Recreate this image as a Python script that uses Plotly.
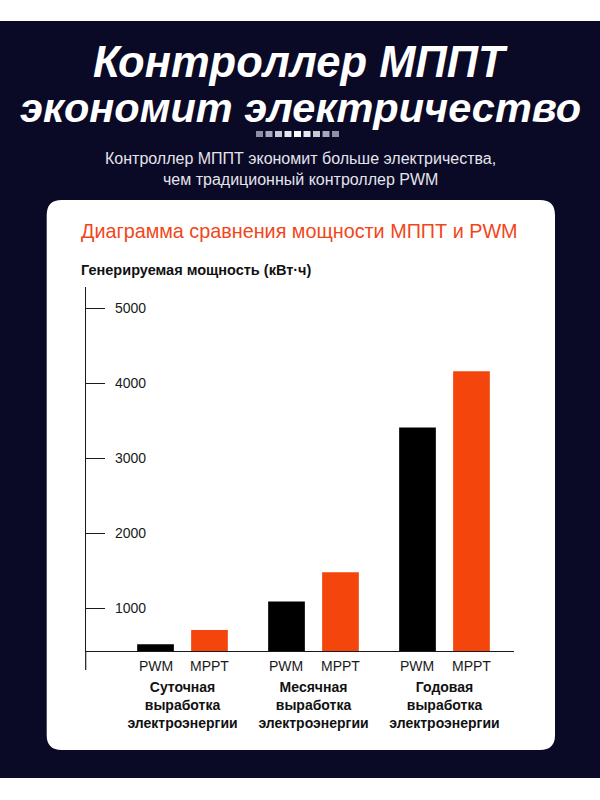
import plotly.graph_objects as go

# ---- data ----
groups = ["Суточная<br>выработка<br>электроэнергии",
          "Месячная<br>выработка<br>электроэнергии",
          "Годовая<br>выработка<br>электроэнергии"]
series_names = ["PWM", "MPPT"]
pwm_values = [520, 1090, 3410]
mppt_values = [710, 1480, 4160]
y_ticks = [1000, 2000, 3000, 4000, 5000]
y_tick_labels = ["1000", "2000", "3000", "4000", "5000"]

title_line1 = "Контроллер МППТ"
title_line2 = "экономит электричество"
subtitle_lines = ["Контроллер МППТ экономит больше электричества,",
                  "чем традиционный контроллер PWM"]
chart_title = "Диаграмма сравнения мощности МППТ и PWM"
y_title = "Генерируемая мощность (кВт·ч)"

W, H = 600, 800
FONT = "Liberation Sans, Arial, sans-serif"
DARK = "#0a0926"
ORANGE = "#f4450c"

def fx(px):
    return px / W

def fy(py):
    return 1 - py / H

# plot area (pixels)
PL, PR, PT, PB = 85.7, 514.3, 287, 651

fig = go.Figure()
fig.add_trace(go.Bar(x=groups, y=pwm_values, name=series_names[0],
                     marker=dict(color="#000000", line=dict(width=0))))
fig.add_trace(go.Bar(x=groups, y=mppt_values, name=series_names[1],
                     marker=dict(color=ORANGE, line=dict(width=0))))

shapes = []
# dark background band
shapes.append(dict(type="rect", xref="paper", yref="paper",
                   x0=0, x1=1, y0=fy(778), y1=fy(21),
                   fillcolor=DARK, line=dict(width=0), layer="below"))
# white rounded card
cx0, cx1, cy0, cy1 = 46.7, 555, 200, 750
r = 15
def P(px, py):
    return f"{fx(px):.5f},{fy(py):.5f}"
path = (f"M {P(cx0 + r, cy0)} L {P(cx1 - r, cy0)} Q {P(cx1, cy0)} {P(cx1, cy0 + r)} "
        f"L {P(cx1, cy1 - r)} Q {P(cx1, cy1)} {P(cx1 - r, cy1)} "
        f"L {P(cx0 + r, cy1)} Q {P(cx0, cy1)} {P(cx0, cy1 - r)} "
        f"L {P(cx0, cy0 + r)} Q {P(cx0, cy0)} {P(cx0 + r, cy0)} Z")
shapes.append(dict(type="path", xref="paper", yref="paper", path=path,
                   fillcolor="#ffffff", line=dict(width=0), layer="below"))
# decorative dots
dot_colors = ["#8e8ea6", "#a8a8bc", "#c8c8d6", "#e8e8f0", "#ffffff",
              "#e8e8f0", "#c8c8d6", "#a8a8bc", "#8e8ea6"]
for i, c in enumerate(dot_colors):
    x0 = 256 + i * 9.5
    shapes.append(dict(type="rect", xref="paper", yref="paper",
                       x0=fx(x0), x1=fx(x0 + 7), y0=fy(137), y1=fy(131),
                       fillcolor=c, line=dict(width=0), layer="below"))
# y axis extension below x axis
shapes.append(dict(type="line", xref="paper", yref="paper",
                   x0=fx(PL), x1=fx(PL), y0=fy(PB), y1=fy(670),
                   line=dict(color="#1a1a1a", width=1.2)))

annotations = []
annotations.append(dict(text=f"<b><i>{title_line1}</i></b>", x=0.5, y=fy(62),
                        xref="paper", yref="paper", showarrow=False,
                        xanchor="center", yanchor="middle",
                        font=dict(family=FONT, size=43.5, color="#ffffff")))
annotations.append(dict(text=f"<b><i>{title_line2}</i></b>", x=0.5, y=fy(107),
                        xref="paper", yref="paper", showarrow=False,
                        xanchor="center", yanchor="middle",
                        font=dict(family=FONT, size=41.5, color="#ffffff")))
for i, line in enumerate(subtitle_lines):
    annotations.append(dict(text=line, x=0.5, y=fy(158 + i * 21),
                            xref="paper", yref="paper", showarrow=False,
                            xanchor="center", yanchor="middle",
                            font=dict(family=FONT, size=16, color="#e4e4ec")))
annotations.append(dict(text=chart_title, x=fx(79), y=fy(231),
                        xref="paper", yref="paper", showarrow=False,
                        xanchor="left", yanchor="middle",
                        font=dict(family=FONT, size=19.8, color="#f2461a")))
annotations.append(dict(text=f"<b>{y_title}</b>", x=fx(79), y=fy(270),
                        xref="paper", yref="paper", showarrow=False,
                        xanchor="left", yanchor="middle",
                        font=dict(family=FONT, size=14.5, color="#111111")))
# series labels under each bar
offsets = [-27, 27]
for g in groups:
    for s, off in zip(series_names, offsets):
        annotations.append(dict(text=s, x=g, xref="x", y=fy(666), yref="paper",
                                xshift=off, showarrow=False,
                                xanchor="center", yanchor="middle",
                                font=dict(family=FONT, size=14, color="#1a1a1a")))

fig.update_layout(
    width=W, height=H,
    margin=dict(l=0, r=0, t=0, b=0),
    paper_bgcolor="#ffffff",
    plot_bgcolor="rgba(0,0,0,0)",
    barmode="group", bargap=0.176, bargroupgap=0.32,
    showlegend=False,
    shapes=shapes, annotations=annotations,
    xaxis=dict(domain=[fx(PL), fx(PR)], range=[-0.739, 2.533],
               type="category", showline=True, linecolor="#1a1a1a", linewidth=1.2,
               showgrid=False, zeroline=False, ticks="",
               tickvals=groups, ticktext=[f"<b>{g}</b>" for g in groups],
               ticklabelstandoff=23,
               tickfont=dict(family=FONT, size=14, color="#111111")),
    yaxis=dict(domain=[fy(PB), fy(PT)], range=[431, 5284],
               showline=True, linecolor="#1a1a1a", linewidth=1.2,
               showgrid=False, zeroline=False,
               tickvals=y_ticks, ticktext=y_tick_labels,
               ticks="inside", ticklen=19, tickwidth=1, tickcolor="#1a1a1a",
               ticklabelposition="inside", ticklabelstandoff=10,
               tickfont=dict(family=FONT, size=14, color="#1a1a1a")),
)

fig.write_html("out.html", config={"displayModeBar": False},
               post_script="document.body.style.margin='0';")
